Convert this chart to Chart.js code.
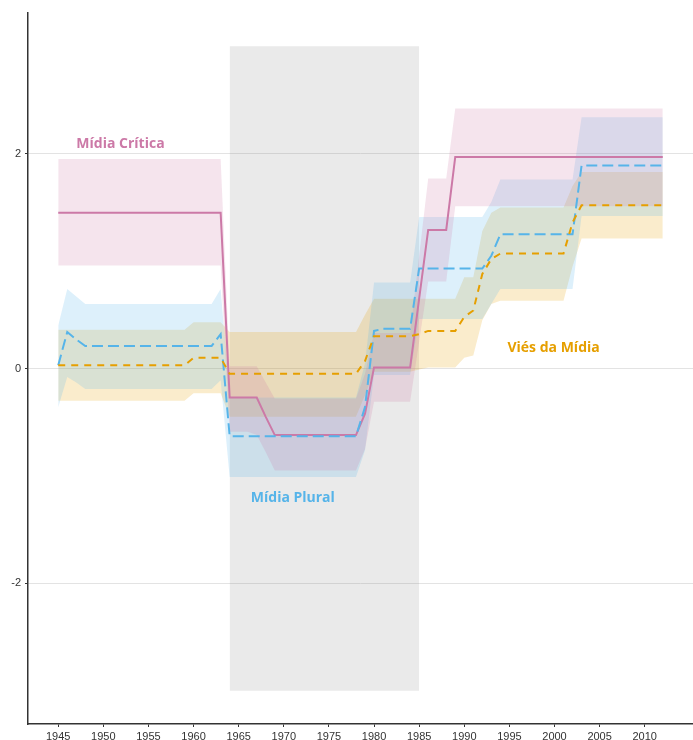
<!DOCTYPE html>
<html><head><meta charset="utf-8">
<script src="https://cdn.jsdelivr.net/npm/chart.js@4/dist/chart.umd.min.js"></script>
<style>html,body{margin:0;padding:0;background:#fff}#wrap{width:693px;height:740px;position:relative}</style>
</head><body><div id="wrap"><canvas id="c"></canvas></div>
<script>
const years = [1945,1946,1947,1948,1949,1950,1951,1952,1953,1954,
  1955,1956,1957,1958,1959,1960,1961,1962,1963,1964,
  1965,1966,1967,1968,1969,1970,1971,1972,1973,1974,
  1975,1976,1977,1978,1979,1980,1981,1982,1983,1984,
  1985,1986,1987,1988,1989,1990,1991,1992,1993,1994,
  1995,1996,1997,1998,1999,2000,2001,2002,2003,2004,
  2005,2006,2007,2008,2009,2010,2011,2012];

// Mídia Crítica
const criticaMid = [1.45,1.45,1.45,1.45,1.45,1.45,1.45,1.45,1.45,1.45,
  1.45,1.45,1.45,1.45,1.45,1.45,1.45,1.45,1.45,-0.27,
  -0.27,-0.27,-0.27,-0.45,-0.62,-0.62,-0.62,-0.62,-0.62,-0.62,
  -0.62,-0.62,-0.62,-0.62,-0.42,0.01,0.01,0.01,0.01,0.01,
  0.65,1.29,1.29,1.29,1.97,1.97,1.97,1.97,1.97,1.97,
  1.97,1.97,1.97,1.97,1.97,1.97,1.97,1.97,1.97,1.97,
  1.97,1.97,1.97,1.97,1.97,1.97,1.97,1.97];
const criticaHigh = [1.95,1.95,1.95,1.95,1.95,1.95,1.95,1.95,1.95,1.95,
  1.95,1.95,1.95,1.95,1.95,1.95,1.95,1.95,1.95,0.02,
  0.02,0.02,0.02,-0.13,-0.28,-0.28,-0.28,-0.28,-0.28,-0.28,
  -0.28,-0.28,-0.28,-0.28,-0.05,0.33,0.33,0.33,0.33,0.33,
  1.05,1.77,1.77,1.77,2.42,2.42,2.42,2.42,2.42,2.42,
  2.42,2.42,2.42,2.42,2.42,2.42,2.42,2.42,2.42,2.42,
  2.42,2.42,2.42,2.42,2.42,2.42,2.42,2.42];
const criticaLow = [0.96,0.96,0.96,0.96,0.96,0.96,0.96,0.96,0.96,0.96,
  0.96,0.96,0.96,0.96,0.96,0.96,0.96,0.96,0.96,-0.59,
  -0.59,-0.59,-0.62,-0.78,-0.95,-0.95,-0.95,-0.95,-0.95,-0.95,
  -0.95,-0.95,-0.95,-0.95,-0.75,-0.31,-0.31,-0.31,-0.31,-0.31,
  0.25,0.81,0.81,0.81,1.51,1.51,1.51,1.51,1.51,1.51,
  1.51,1.51,1.51,1.51,1.51,1.51,1.51,1.51,1.51,1.51,
  1.51,1.51,1.51,1.51,1.51,1.51,1.51,1.51];

// Mídia Plural
const pluralMid = [0.03,0.34,0.27,0.21,0.21,0.21,0.21,0.21,0.21,0.21,
  0.21,0.21,0.21,0.21,0.21,0.21,0.21,0.21,0.32,-0.63,
  -0.63,-0.63,-0.63,-0.63,-0.63,-0.63,-0.63,-0.63,-0.63,-0.63,
  -0.63,-0.63,-0.63,-0.63,-0.36,0.35,0.37,0.37,0.37,0.37,
  0.93,0.93,0.93,0.93,0.93,0.93,0.93,0.93,1.05,1.25,
  1.25,1.25,1.25,1.25,1.25,1.25,1.25,1.25,1.89,1.89,
  1.89,1.89,1.89,1.89,1.89,1.89,1.89,1.89];
const pluralHigh = [0.40,0.74,0.67,0.60,0.60,0.60,0.60,0.60,0.60,0.60,
  0.60,0.60,0.60,0.60,0.60,0.60,0.60,0.60,0.74,-0.27,
  -0.27,-0.27,-0.27,-0.27,-0.27,-0.27,-0.27,-0.27,-0.27,-0.27,
  -0.27,-0.27,-0.27,-0.27,0.05,0.80,0.80,0.80,0.80,0.80,
  1.41,1.41,1.41,1.41,1.41,1.41,1.41,1.41,1.55,1.76,
  1.76,1.76,1.76,1.76,1.76,1.76,1.76,1.76,2.34,2.34,
  2.34,2.34,2.34,2.34,2.34,2.34,2.34,2.34];
const pluralLow = [-0.36,-0.08,-0.13,-0.19,-0.19,-0.19,-0.19,-0.19,-0.19,-0.19,
  -0.19,-0.19,-0.19,-0.19,-0.19,-0.19,-0.19,-0.19,-0.11,-1.01,
  -1.01,-1.01,-1.01,-1.01,-1.01,-1.01,-1.01,-1.01,-1.01,-1.01,
  -1.01,-1.01,-1.01,-1.01,-0.76,-0.06,-0.06,-0.06,-0.06,-0.06,
  0.46,0.46,0.46,0.46,0.46,0.46,0.46,0.46,0.60,0.74,
  0.74,0.74,0.74,0.74,0.74,0.74,0.74,0.74,1.42,1.42,
  1.42,1.42,1.42,1.42,1.42,1.42,1.42,1.42];

// Viés da Mídia
const viesMid = [0.03,0.03,0.03,0.03,0.03,0.03,0.03,0.03,0.03,0.03,
  0.03,0.03,0.03,0.03,0.03,0.10,0.10,0.10,0.10,-0.05,
  -0.05,-0.05,-0.05,-0.05,-0.05,-0.05,-0.05,-0.05,-0.05,-0.05,
  -0.05,-0.05,-0.05,-0.05,0.07,0.30,0.30,0.30,0.30,0.30,
  0.32,0.35,0.35,0.35,0.35,0.48,0.54,0.88,1.02,1.07,
  1.07,1.07,1.07,1.07,1.07,1.07,1.07,1.36,1.52,1.52,
  1.52,1.52,1.52,1.52,1.52,1.52,1.52,1.52];
const viesHigh = [0.36,0.36,0.36,0.36,0.36,0.36,0.36,0.36,0.36,0.36,
  0.36,0.36,0.36,0.36,0.36,0.43,0.43,0.43,0.43,0.34,
  0.34,0.34,0.34,0.34,0.34,0.34,0.34,0.34,0.34,0.34,
  0.34,0.34,0.34,0.34,0.50,0.65,0.65,0.65,0.65,0.65,
  0.65,0.65,0.65,0.65,0.65,0.85,0.85,1.28,1.45,1.50,
  1.50,1.50,1.50,1.50,1.50,1.50,1.50,1.70,1.83,1.83,
  1.83,1.83,1.83,1.83,1.83,1.83,1.83,1.83];
const viesLow = [-0.30,-0.30,-0.30,-0.30,-0.30,-0.30,-0.30,-0.30,-0.30,-0.30,
  -0.30,-0.30,-0.30,-0.30,-0.30,-0.23,-0.23,-0.23,-0.23,-0.45,
  -0.45,-0.45,-0.45,-0.45,-0.45,-0.45,-0.45,-0.45,-0.45,-0.45,
  -0.45,-0.45,-0.45,-0.45,-0.25,-0.03,-0.03,-0.03,-0.03,-0.03,
  -0.01,0.01,0.01,0.01,0.01,0.10,0.12,0.45,0.60,0.63,
  0.63,0.63,0.63,0.63,0.63,0.63,0.63,0.95,1.21,1.21,
  1.21,1.21,1.21,1.21,1.21,1.21,1.21,1.21];

// shaded period
const shadeYears = [1964, 1985];
const shadeTop = [3, 3];
const shadeBottom = [-3, -3];

// ticks
const xTicks = [1945,1950,1955,1960,1965,1970,1975,1980,1985,1990,1995,2000,2005,2010];
const yTicks = [-2, 0, 2];

// labels
const labelTexts = ['Mídia Crítica', 'Mídia Plural', 'Viés da Mídia'];
const labelX = [1951.9, 1971.0, 1999.9];
const labelY = [2.09, -1.21, 0.19];

const colPink = '#CC79A7', colBlue = '#56B4E9', colOrange = '#E69F00';
const labelColors = [colPink, colBlue, colOrange];

const pts = arr => years.map((yr, i) => ({x: yr, y: arr[i]}));
const shadePts = arr => shadeYears.map((yr, i) => ({x: yr, y: arr[i]}));
const none = 'rgba(0,0,0,0)';

function lineDs(data, color, dash, order) {
  return {data: pts(data), borderColor: color, borderWidth: 2, borderDash: dash,
    borderCapStyle: 'butt', pointRadius: 0, fill: false, tension: 0, order};
}
function bandDs(data, fillColor, order) {
  return {data: pts(data), borderColor: none, borderWidth: 0, pointRadius: 0,
    fill: '+1', backgroundColor: fillColor, tension: 0, order};
}
function baseDs(data, order) {
  return {data: pts(data), borderColor: none, borderWidth: 0, pointRadius: 0,
    fill: false, tension: 0, order};
}

const labelPlugin = {
  id: 'seriesLabels',
  afterDatasetsDraw(chart) {
    const {ctx, scales: {x, y}} = chart;
    ctx.save();
    ctx.font = 'bold 14px "Open Sans", sans-serif';
    ctx.textAlign = 'center';
    ctx.textBaseline = 'middle';
    for (let i = 0; i < labelTexts.length; i++) {
      ctx.fillStyle = labelColors[i];
      ctx.fillText(labelTexts[i], x.getPixelForValue(labelX[i]), y.getPixelForValue(labelY[i]));
    }
    ctx.restore();
  }
};

new Chart(document.getElementById('c'), {
  type: 'line',
  data: {
    datasets: [
      lineDs(viesMid, colOrange, [7, 6], 0),
      lineDs(pluralMid, colBlue, [11, 5], 1),
      lineDs(criticaMid, colPink, [], 2),
      bandDs(criticaHigh, 'rgba(204,121,167,0.2)', 3),
      baseDs(criticaLow, 3),
      bandDs(pluralHigh, 'rgba(86,180,233,0.2)', 4),
      baseDs(pluralLow, 4),
      bandDs(viesHigh, 'rgba(230,159,0,0.2)', 5),
      baseDs(viesLow, 5),
      {data: shadePts(shadeTop), borderColor: none, borderWidth: 0, pointRadius: 0,
        fill: '+1', backgroundColor: 'rgba(128,128,128,0.17)', order: 9},
      {data: shadePts(shadeBottom), borderColor: none, borderWidth: 0, pointRadius: 0,
        fill: false, order: 9}
    ]
  },
  options: {
    responsive: true,
    maintainAspectRatio: false,
    animation: false,
    devicePixelRatio: 1,
    layout: {padding: {top: 13, right: 0, bottom: 0, left: 0}},
    plugins: {legend: {display: false}, tooltip: {enabled: false}},
    scales: {
      x: {
        type: 'linear', min: 1941.65, max: 2015.35,
        afterBuildTicks: s => { s.ticks = xTicks.map(v => ({value: v})); },
        afterFit: s => { s.height = 16; },
        grid: {drawOnChartArea: false, drawTicks: true, tickLength: 3, tickColor: '#333'},
        border: {display: true, color: '#333', width: 1.5},
        ticks: {font: {family: '"Liberation Sans", Arial, sans-serif', size: 11}, color: '#333',
          padding: 3, maxRotation: 0, autoSkip: false, callback: v => String(v)}
      },
      y: {
        type: 'linear', min: -3.31, max: 3.31,
        afterBuildTicks: s => { s.ticks = yTicks.map(v => ({value: v})); },
        afterFit: s => { s.width = 28; },
        grid: {drawOnChartArea: true, color: '#E3E3E3', lineWidth: 1, drawTicks: true, tickLength: 3, tickColor: '#333'},
        border: {display: true, color: '#333', width: 1.5},
        ticks: {font: {family: '"Liberation Sans", Arial, sans-serif', size: 11}, color: '#333',
          padding: 4, callback: v => String(v)}
      }
    }
  },
  plugins: [labelPlugin]
});
</script>
</body></html>
